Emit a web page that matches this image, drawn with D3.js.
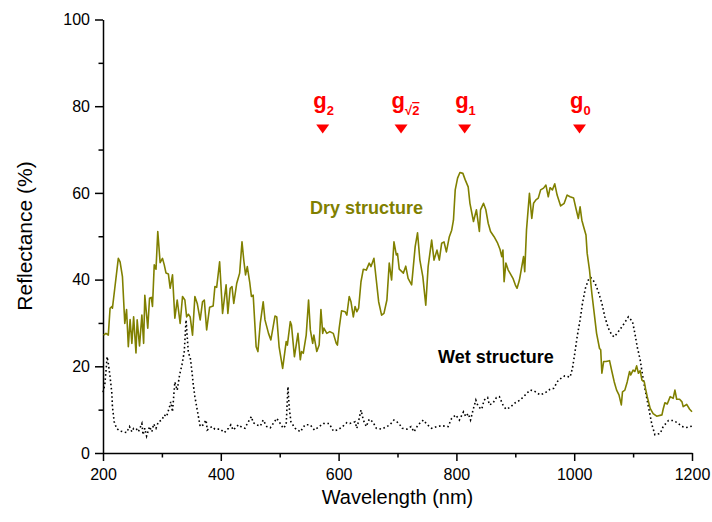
<!DOCTYPE html>
<html>
<head>
<meta charset="utf-8">
<script src="https://cdn.jsdelivr.net/npm/d3@7"></script>
<style>
  body { margin: 0; background: #fff; }
  svg text { font-family: Arial, 'Liberation Sans', sans-serif; }
</style>
</head>
<body>
<div id="chart"></div>
<script>
// dry structure spectrum (nm, %)
const dryNm = [201, 205, 209, 212, 215, 216, 220, 226, 229, 233, 237, 240, 243, 246, 249, 252, 256, 258, 262, 266,
  269, 271, 276, 279, 282, 284, 287, 290, 293, 297, 301, 304, 307, 311, 314, 318, 322, 326, 331, 335,
  339, 342, 345, 348, 352, 356, 360, 365, 369, 372, 376, 381, 387, 390, 393, 398, 403, 409, 412, 416,
  419, 422, 427, 432, 436, 439, 442, 445, 449, 452, 455, 460, 463, 467, 472, 475, 481, 485, 492, 495,
  499, 505, 511, 513, 518, 520, 525, 531, 535, 537, 540, 545, 549, 552, 556, 558, 563, 567, 570, 573,
  575, 580, 585, 591, 596, 598, 601, 605, 611, 614, 618, 621, 625, 628, 631, 634, 638, 642, 647, 652,
  655, 660, 664, 668, 673, 677, 682, 686, 690, 694, 698, 700, 703, 710, 714, 718, 724, 730, 734, 738,
  743, 748, 752, 758, 762, 767, 771, 775, 779, 783, 788, 792, 795, 798, 802, 806, 811, 815, 820, 823,
  829, 834, 839, 841, 846, 850, 854, 858, 864, 870, 874, 877, 879, 881, 884, 888, 891, 896, 900, 903,
  907, 911, 914, 916, 919, 924, 928, 931, 935, 939, 943, 948, 952, 956, 959, 963, 967, 971, 977, 983,
  988, 993, 999, 1003, 1007, 1010, 1013, 1016, 1020, 1022, 1026, 1030, 1034, 1038, 1043, 1045, 1047, 1050, 1054, 1060,
  1064, 1068, 1072, 1076, 1080, 1082, 1086, 1090, 1094, 1096, 1100, 1103, 1106, 1109, 1112, 1115, 1119, 1121, 1124, 1129,
  1134, 1140, 1149, 1151, 1154, 1158, 1163, 1168, 1171, 1174, 1179, 1183, 1185, 1191, 1196, 1200];
const dryPct = [27.2, 27.6, 27.2, 33.4, 33.8, 33.4, 38, 44.9, 44.1, 40.7, 29.9, 33.1, 24.5, 30.8, 25.3, 31.4, 23.1, 30.7, 24.7, 31.8,
  25.3, 36.4, 28.8, 35.7, 35.9, 33.8, 43.4, 42.4, 51.1, 43.9, 44.9, 43.4, 41.5, 41.3, 38, 41.1, 31.1, 35.3, 29.9, 36.1,
  35.3, 31.4, 32, 31.4, 27.2, 36.1, 34.5, 30.7, 34.9, 35.3, 28.4, 33.6, 33.9, 38.4, 38.2, 44.1, 32.2, 38.8, 32.2, 38,
  38.4, 34.5, 39.1, 41.5, 48.7, 44.5, 41.1, 43, 39.5, 36.1, 36.4, 24.5, 23.4, 29.9, 34.9, 30.7, 27.6, 26.1, 31.6, 31.4,
  24.5, 19.5, 25.7, 24.9, 30.3, 29.5, 22.2, 27.6, 21.5, 23.4, 23, 27.2, 35.3, 28.4, 25.3, 27.2, 23.4, 24.9, 33.1, 27.6,
  28.8, 27.6, 28, 27.6, 25.3, 24.9, 28.8, 32.8, 32.6, 31.8, 36.1, 34.9, 31.4, 33.8, 32.6, 33.4, 39.5, 42.4, 42.2, 43.8,
  43, 44.9, 39.9, 34.9, 31.8, 32.2, 35.3, 43.8, 39.9, 48.7, 45.7, 46, 42.4, 41.5, 43.1, 40.3, 38.8, 47.6, 50.8, 44.5,
  40.7, 34.1, 43, 49.1, 44.5, 46.8, 44.5, 48.4, 48.7, 46.4, 49.9, 51.4, 53.7, 60.7, 63.4, 64.7, 64.5, 63, 61.4, 57.6,
  53.4, 56.1, 51.1, 56.1, 57.6, 56.1, 53, 51.1, 49.9, 48.4, 47, 45.3, 46.8, 39.5, 43.8, 42.2, 41.5, 40.3, 38.8, 38,
  39.9, 43, 45.3, 41.8, 51.4, 59.9, 54.1, 57.6, 58.4, 58.8, 60.7, 61.1, 61.8, 59.1, 61.2, 60.7, 62.1, 59.5, 57, 57.6,
  59.5, 59.1, 58.8, 56.4, 54.1, 56.8, 53.7, 52.2, 50.3, 46.1, 42.2, 36.8, 32.2, 27.6, 24.1, 23.8, 18.4, 21.1, 21.1, 21.3,
  18.8, 16.4, 14.5, 13.4, 11.1, 14.1, 14.5, 16.4, 18.8, 18, 19.1, 18.8, 20.1, 18.4, 19, 16.8, 16.4, 14.9, 13, 10.3,
  9.1, 8.5, 8.8, 10.1, 11.6, 11.3, 13, 12.6, 14.5, 12.4, 12.4, 11.8, 10.7, 11.2, 10.1, 9.5];

// wet structure spectrum (nm, %)
const wetNm = [200, 203, 205, 207, 209, 212, 215, 216, 219, 223, 228, 234, 240, 245, 249, 252, 256, 260, 266, 268,
  271, 274, 279, 283, 286, 290, 294, 300, 304, 308, 313, 315, 318, 322, 326, 330, 334, 338, 341, 343,
  345, 348, 351, 353, 356, 359, 362, 365, 370, 375, 377, 385, 390, 399, 406, 413, 417, 421, 430, 436,
  441, 445, 452, 455, 461, 467, 472, 478, 484, 489, 495, 501, 506, 511, 514, 515, 516, 519, 526, 535,
  543, 552, 559, 567, 574, 584, 591, 598, 605, 614, 619, 628, 631, 635, 638, 642, 647, 652, 658, 664,
  673, 682, 687, 694, 699, 703, 708, 716, 723, 728, 735, 744, 750, 758, 767, 775, 786, 792, 799, 805,
  812, 816, 820, 824, 829, 833, 837, 843, 847, 853, 856, 862, 868, 873, 879, 884, 891, 900, 908, 917,
  925, 931, 942, 950, 959, 965, 973, 984, 993, 997, 1001, 1005, 1010, 1014, 1019, 1024, 1028, 1035, 1041, 1047,
  1052, 1058, 1064, 1068, 1075, 1083, 1092, 1099, 1103, 1107, 1112, 1116, 1120, 1126, 1132, 1137, 1146, 1151, 1160, 1168,
  1175, 1183, 1191, 1200];
const wetPct = [14, 15.7, 18.8, 22.2, 20.7, 17.6, 13.8, 10.7, 7.2, 5.7, 5.1, 4.9, 4.7, 6.1, 4.9, 5.7, 5.7, 4.9, 6.8, 4.2,
  5.7, 3.9, 6.1, 4.9, 6.7, 5.7, 7.2, 7.6, 8.8, 8.4, 10.7, 11.8, 9.5, 16.4, 14.5, 18, 20.3, 23.4, 30.7, 26.8,
  23, 22.2, 18.8, 16.1, 13, 10.7, 8.4, 6.1, 6.5, 7.6, 5.3, 6.1, 5.5, 5.5, 4.7, 5.7, 6.5, 5.3, 6.5, 5.9,
  5.7, 6.8, 8.4, 7, 6.5, 6.2, 7.6, 6.1, 5.8, 6.8, 8, 6.8, 5.7, 6.5, 15.3, 13, 10.7, 7.2, 5.7, 4.9,
  6.5, 6.5, 5.3, 6.1, 6.8, 6.8, 5.1, 5.3, 5.9, 7, 6.8, 7.2, 5.7, 8, 9.9, 7.6, 6.1, 7.8, 7.2, 5.7,
  5.5, 6.1, 6.5, 7.6, 7.2, 6.7, 5.7, 5.5, 6.1, 4.9, 6.5, 7.6, 6.6, 5.7, 6.1, 6.3, 6.1, 8, 8.8, 7.6,
  9.5, 8.4, 9.1, 7.6, 10.3, 12.2, 10.7, 10.1, 12.2, 12.8, 11.1, 11.5, 12.8, 13, 11.1, 10.1, 10.5, 11.6, 12.2, 13.4,
  14.5, 14.4, 13.4, 13.8, 14.7, 14.9, 16.8, 17.8, 17.5, 19.5, 23, 26.8, 30.7, 34.5, 38, 39.9, 40.5, 39.3, 37.2, 34.5,
  31.4, 28.8, 27.2, 26.8, 28, 29.5, 31.4, 30.3, 27.6, 24.5, 21.5, 18, 14.9, 10.7, 6.5, 4.2, 4.5, 6.1, 7.5, 7.5,
  7, 6.1, 5.9, 6.2];

const xTicks = [200, 400, 600, 800, 1000, 1200];
const xMinor = [300, 500, 700, 900, 1100];
const yTicks = [0, 20, 40, 60, 80, 100];
const yMinor = [10, 30, 50, 70, 90];

// diffraction order markers
const orderNm = [573, 706, 814, 1009];
const orderSub = ['2', '√2', '1', '0'];

const olive = '#808000';

const svg = d3.select('#chart').append('svg')
  .attr('width', 712)
  .attr('height', 522);

const x = d3.scaleLinear().domain([200, 1200]).range([103, 692]);
const y = d3.scaleLinear().domain([0, 100]).range([453, 19.5]);

// minor ticks first, then major axes on top
svg.append('g')
  .attr('transform', `translate(0,${y(0)})`)
  .call(d3.axisBottom(x).tickValues(xMinor).tickSize(4.5).tickFormat(''))
  .call(g => g.select('.domain').remove());

svg.append('g')
  .attr('transform', `translate(${x(200)},0)`)
  .call(d3.axisLeft(y).tickValues(yMinor).tickSize(4.5).tickFormat(''))
  .call(g => g.select('.domain').remove());

const xAxis = svg.append('g')
  .attr('transform', `translate(0,${y(0)})`)
  .call(d3.axisBottom(x).tickValues(xTicks).tickFormat(d3.format('d'))
    .tickSize(8).tickSizeOuter(0).tickPadding(8));

const yAxis = svg.append('g')
  .attr('transform', `translate(${x(200)},0)`)
  .call(d3.axisLeft(y).tickValues(yTicks).tickFormat(d3.format('d'))
    .tickSize(8).tickSizeOuter(0).tickPadding(5));

[xAxis, yAxis].forEach(a => {
  a.selectAll('text').style('font-size', '16px').attr('fill', '#000');
});
svg.selectAll('.domain, .tick line')
  .attr('stroke', '#000')
  .attr('stroke-width', 1.5);

// curves
const line = d3.line()
  .x(d => x(d[0]))
  .y(d => y(d[1]));

svg.append('path')
  .datum(wetNm.map((n, i) => [n, wetPct[i]]))
  .attr('fill', 'none')
  .attr('stroke', '#000')
  .attr('stroke-width', 1.6)
  .attr('stroke-dasharray', '1.6,2.6')
  .attr('d', line);

svg.append('path')
  .datum(dryNm.map((n, i) => [n, dryPct[i]]))
  .attr('fill', 'none')
  .attr('stroke', olive)
  .attr('stroke-width', 1.6)
  .attr('stroke-linejoin', 'round')
  .attr('d', line);

// labels
svg.append('text')
  .attr('x', 310)
  .attr('y', 214)
  .attr('fill', olive)
  .style('font-size', '18px')
  .style('font-weight', 'bold')
  .text('Dry structure');

svg.append('text')
  .attr('x', 438)
  .attr('y', 363)
  .attr('fill', '#000')
  .style('font-size', '18px')
  .style('font-weight', 'bold')
  .text('Wet structure');

// order markers
const orders = svg.selectAll('.order')
  .data(orderNm)
  .enter().append('g')
  .attr('class', 'order')
  .attr('transform', d => `translate(${x(d)},0)`);

orders.append('path')
  .attr('d', 'M-6.5,124.5L6.5,124.5L0,133.5Z')
  .attr('fill', '#ff0000');

const gLabel = orders.append('text')
  .attr('x', -9.5)
  .attr('y', 108)
  .attr('fill', '#ff0000')
  .style('font-size', '22px')
  .style('font-weight', 'bold');

gLabel.append('tspan').text('g');
gLabel.each(function (d, i) {
  const t = d3.select(this);
  const sub = orderSub[i];
  if (sub.startsWith('√')) {
    t.append('tspan').attr('dy', 7).style('font-size', '13px').text('√');
    t.append('tspan').style('font-size', '13px').style('text-decoration', 'overline').text(sub.slice(1));
  } else {
    t.append('tspan').attr('dy', 7).style('font-size', '13px').text(sub);
  }
});

// axis titles
svg.append('text')
  .attr('x', (x(200) + x(1200)) / 2)
  .attr('y', 504)
  .attr('text-anchor', 'middle')
  .style('font-size', '20px')
  .text('Wavelength (nm)');

svg.append('text')
  .attr('transform', 'translate(32,236) rotate(-90)')
  .attr('text-anchor', 'middle')
  .style('font-size', '21px')
  .text('Reflectance (%)');
</script>
</body>
</html>
